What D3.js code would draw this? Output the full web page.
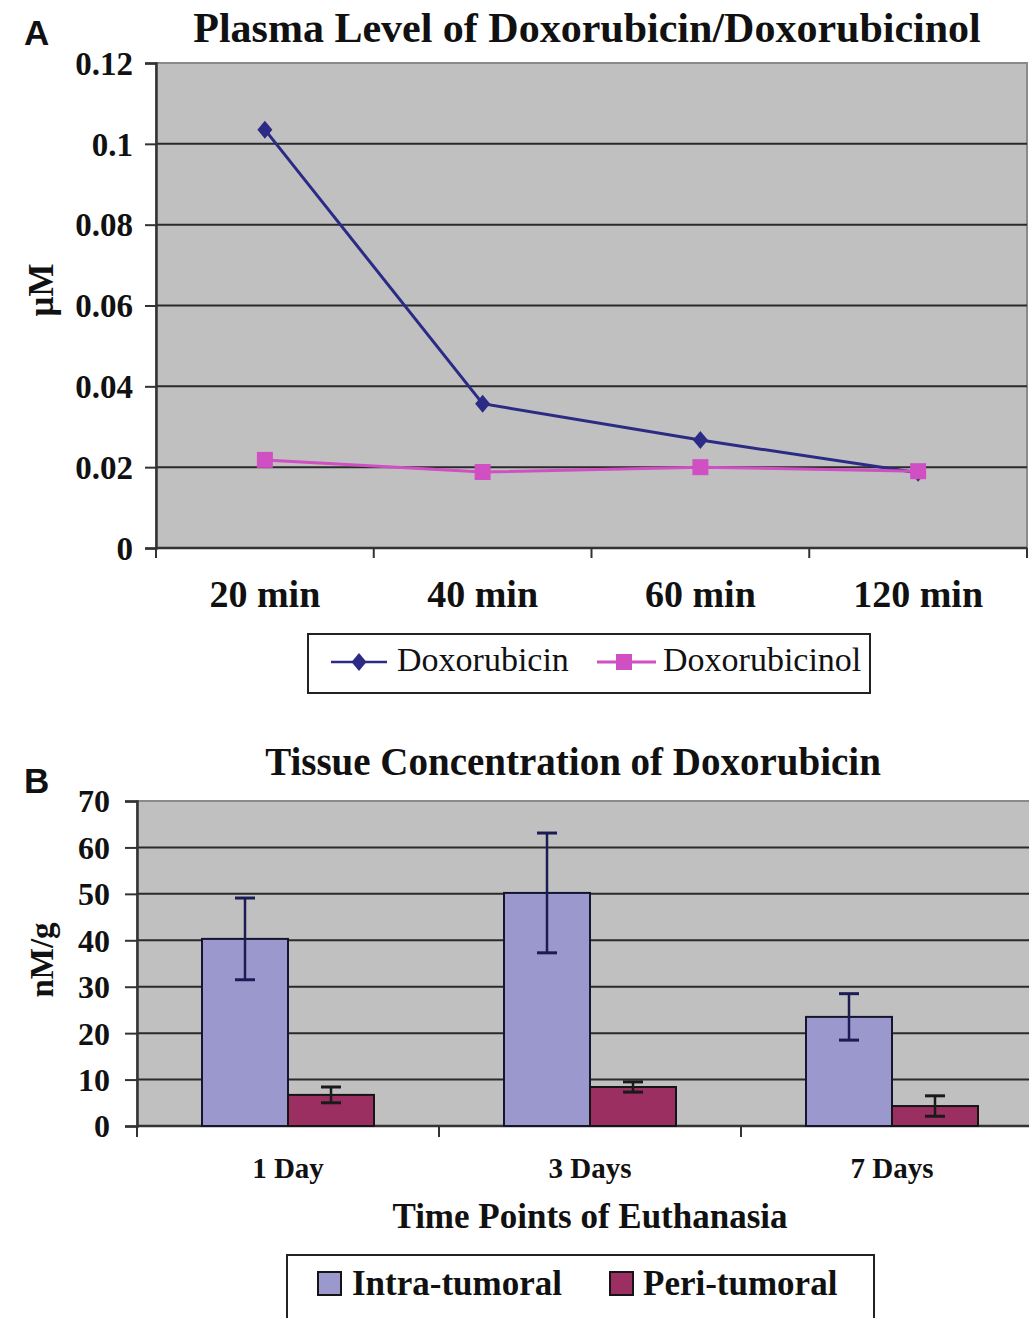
<!DOCTYPE html>
<html lang="en">
<head>
	<meta charset="utf-8">
	<title>Plasma level and tissue concentration of doxorubicin</title>
	<script src="https://d3js.org/d3.v7.min.js" charset="utf-8"></script>
	<style>
		body { margin: 0; background: #fff; }
		text { font-family: "Liberation Serif", "Times New Roman", serif; fill: #111; }
		.panel { font-family: "Liberation Sans", Arial, sans-serif; font-weight: bold; }
	</style>
</head>

<body>
<script>
	// Panel A data - plasma level (uM)
	var timesA = ["20 min", "40 min", "60 min", "120 min"];
	var doxorubicin = [0.1035, 0.0357, 0.0267, 0.0186];
	var doxorubicinol = [0.0218, 0.0188, 0.0200, 0.0190];
	var yTicksA = [0, 0.02, 0.04, 0.06, 0.08, 0.1, 0.12];
	var yLabelsA = ["0", "0.02", "0.04", "0.06", "0.08", "0.1", "0.12"];

	// Panel B data - tissue concentration (nM/g)
	var daysB = ["1 Day", "3 Days", "7 Days"];
	var intraMean = [40.3, 50.2, 23.5];
	var intraErr = [8.8, 12.9, 5.0];
	var periMean = [6.7, 8.4, 4.3];
	var periErr = [1.7, 1.1, 2.2];
	var yTicksB = [0, 10, 20, 30, 40, 50, 60, 70];

	var w = 1029;
	var h = 1318;

	var svg = d3.select("body")
		.append("svg")
		.attr("width", w)
		.attr("height", h);

	svg.append("rect").attr("width", w).attr("height", h).attr("fill", "#fff");

	var serif = "'Liberation Serif', 'Times New Roman', serif";

	// ---------------- Panel A ----------------
	var A = { left: 156, right: 1027, top: 63, bottom: 548 };

	var xA = d3.scaleBand().domain(timesA).range([A.left, A.right]);
	var yA = d3.scaleLinear().domain([0, 0.12]).range([A.bottom, A.top]);

	svg.append("rect")
		.attr("x", A.left).attr("y", A.top)
		.attr("width", A.right - A.left).attr("height", A.bottom - A.top)
		.attr("fill", "#c0c0c0")
		.attr("stroke", "#8a8a8a").attr("stroke-width", 2);

	// gridlines
	svg.append("g").selectAll("line")
		.data(yTicksA.slice(1, -1))
		.enter().append("line")
		.attr("x1", A.left).attr("x2", A.right)
		.attr("y1", function(d) { return yA(d); })
		.attr("y2", function(d) { return yA(d); })
		.attr("stroke", "#2a2a2a").attr("stroke-width", 2);

	// y axis
	var yAxisA = svg.append("g")
		.attr("transform", "translate(" + A.left + ",0)")
		.call(d3.axisLeft(yA).tickValues(yTicksA).tickSize(11).tickPadding(12)
			.tickFormat(function(d, i) { return yLabelsA[i]; }));
	yAxisA.select(".domain").attr("stroke", "#333").attr("stroke-width", 2.5);
	yAxisA.selectAll(".tick line").attr("stroke", "#333").attr("stroke-width", 2);
	yAxisA.selectAll(".tick text")
		.attr("font-family", serif).attr("font-size", 33).attr("font-weight", "bold")
		.attr("fill", "#111").attr("dy", "0.34em");

	// x axis line and tick marks at category boundaries
	svg.append("line")
		.attr("x1", A.left).attr("x2", A.right)
		.attr("y1", A.bottom).attr("y2", A.bottom)
		.attr("stroke", "#333").attr("stroke-width", 2.5);
	svg.append("g").selectAll("line")
		.data(timesA)
		.enter().append("line")
		.attr("x1", function(d) { return xA(d) + xA.bandwidth(); })
		.attr("x2", function(d) { return xA(d) + xA.bandwidth(); })
		.attr("y1", A.bottom).attr("y2", A.bottom + 10)
		.attr("stroke", "#333").attr("stroke-width", 2);
	svg.append("line")
		.attr("x1", A.left).attr("x2", A.left)
		.attr("y1", A.bottom).attr("y2", A.bottom + 10)
		.attr("stroke", "#333").attr("stroke-width", 2);

	svg.append("g").selectAll("text")
		.data(timesA)
		.enter().append("text")
		.attr("x", function(d) { return xA(d) + xA.bandwidth() / 2; })
		.attr("y", 607)
		.attr("text-anchor", "middle")
		.attr("font-size", 38).attr("font-weight", "bold")
		.text(function(d) { return d; });

	// lines
	var lineA = d3.line()
		.x(function(d, i) { return xA(timesA[i]) + xA.bandwidth() / 2; })
		.y(function(d) { return yA(d); });

	var diamond = "M0,-9L7.5,0L0,9L-7.5,0Z";

	svg.append("path")
		.datum(doxorubicin)
		.attr("d", lineA)
		.attr("fill", "none").attr("stroke", "#2b2b85").attr("stroke-width", 3);
	svg.append("g").selectAll("path")
		.data(doxorubicin)
		.enter().append("path")
		.attr("d", diamond)
		.attr("transform", function(d, i) {
			return "translate(" + (xA(timesA[i]) + xA.bandwidth() / 2) + "," + yA(d) + ")";
		})
		.attr("fill", "#2b2b85");

	svg.append("path")
		.datum(doxorubicinol)
		.attr("d", lineA)
		.attr("fill", "none").attr("stroke", "#d04fc2").attr("stroke-width", 3);
	svg.append("g").selectAll("rect")
		.data(doxorubicinol)
		.enter().append("rect")
		.attr("x", function(d, i) { return xA(timesA[i]) + xA.bandwidth() / 2 - 8; })
		.attr("y", function(d) { return yA(d) - 8; })
		.attr("width", 16).attr("height", 16)
		.attr("fill", "#d04fc2");

	// title, panel letter, y label
	svg.append("text")
		.attr("x", 587).attr("y", 42)
		.attr("text-anchor", "middle")
		.attr("font-size", 42).attr("font-weight", "bold")
		.text("Plasma Level of Doxorubicin/Doxorubicinol");
	svg.append("text").attr("class", "panel")
		.attr("x", 24).attr("y", 45)
		.attr("font-size", 35)
		.text("A");
	svg.append("text")
		.attr("transform", "translate(53, 290) rotate(-90)")
		.attr("text-anchor", "middle")
		.attr("font-size", 35).attr("font-weight", "bold")
		.text("\u03bcM");

	// legend A
	svg.append("rect")
		.attr("x", 308).attr("y", 634).attr("width", 562).attr("height", 59)
		.attr("fill", "#fff").attr("stroke", "#222").attr("stroke-width", 2);
	svg.append("line")
		.attr("x1", 331).attr("x2", 387).attr("y1", 662).attr("y2", 662)
		.attr("stroke", "#2b2b85").attr("stroke-width", 2.5);
	svg.append("path")
		.attr("d", diamond).attr("transform", "translate(359,662)")
		.attr("fill", "#2b2b85");
	svg.append("text")
		.attr("x", 397).attr("y", 671)
		.attr("font-size", 34)
		.text("Doxorubicin");
	svg.append("line")
		.attr("x1", 597).attr("x2", 656).attr("y1", 662).attr("y2", 662)
		.attr("stroke", "#d04fc2").attr("stroke-width", 3);
	svg.append("rect")
		.attr("x", 616).attr("y", 654).attr("width", 16).attr("height", 16)
		.attr("fill", "#d04fc2");
	svg.append("text")
		.attr("x", 663).attr("y", 671)
		.attr("font-size", 34)
		.text("Doxorubicinol");

	// ---------------- Panel B ----------------
	var B = { left: 137, right: 1043, top: 801, bottom: 1126 };

	var xB = d3.scaleBand().domain(daysB).range([B.left, B.right]);
	var xSub = d3.scaleBand().domain(["intra", "peri"]).range([0, 172]);
	var yB = d3.scaleLinear().domain([0, 70]).range([B.bottom, B.top]);

	svg.append("rect")
		.attr("x", B.left).attr("y", B.top)
		.attr("width", B.right - B.left).attr("height", B.bottom - B.top)
		.attr("fill", "#c0c0c0")
		.attr("stroke", "#8a8a8a").attr("stroke-width", 2);

	svg.append("g").selectAll("line")
		.data(yTicksB.slice(1, -1))
		.enter().append("line")
		.attr("x1", B.left).attr("x2", B.right)
		.attr("y1", function(d) { return yB(d); })
		.attr("y2", function(d) { return yB(d); })
		.attr("stroke", "#2a2a2a").attr("stroke-width", 2);

	var yAxisB = svg.append("g")
		.attr("transform", "translate(" + B.left + ",0)")
		.call(d3.axisLeft(yB).tickValues(yTicksB).tickSize(12).tickPadding(15)
			.tickFormat(d3.format("d")));
	yAxisB.select(".domain").attr("stroke", "#333").attr("stroke-width", 2.5);
	yAxisB.selectAll(".tick line").attr("stroke", "#333").attr("stroke-width", 2);
	yAxisB.selectAll(".tick text")
		.attr("font-family", serif).attr("font-size", 32).attr("font-weight", "bold")
		.attr("fill", "#111").attr("dy", "0.34em");

	svg.append("line")
		.attr("x1", B.left).attr("x2", B.right)
		.attr("y1", B.bottom).attr("y2", B.bottom)
		.attr("stroke", "#333").attr("stroke-width", 2.5);
	svg.append("g").selectAll("line")
		.data(daysB)
		.enter().append("line")
		.attr("x1", function(d) { return xB(d); })
		.attr("x2", function(d) { return xB(d); })
		.attr("y1", B.bottom).attr("y2", B.bottom + 11)
		.attr("stroke", "#333").attr("stroke-width", 2);

	// bars
	function groupX(i) { return xB(daysB[i]) + (xB.bandwidth() - 172) / 2; }

	svg.append("g").selectAll("rect")
		.data(intraMean)
		.enter().append("rect")
		.attr("x", function(d, i) { return groupX(i) + xSub("intra"); })
		.attr("y", function(d) { return yB(d); })
		.attr("width", xSub.bandwidth())
		.attr("height", function(d) { return B.bottom - yB(d); })
		.attr("fill", "#9a98cd").attr("stroke", "#151530").attr("stroke-width", 2);
	svg.append("g").selectAll("rect")
		.data(periMean)
		.enter().append("rect")
		.attr("x", function(d, i) { return groupX(i) + xSub("peri"); })
		.attr("y", function(d) { return yB(d); })
		.attr("width", xSub.bandwidth())
		.attr("height", function(d) { return B.bottom - yB(d); })
		.attr("fill", "#9c2f62").attr("stroke", "#151515").attr("stroke-width", 2);

	// error bars
	function errorBars(means, errs, key, color) {
		var g = svg.append("g").selectAll("g")
			.data(means)
			.enter().append("g")
			.attr("stroke", color).attr("stroke-width", 2.5);
		g.append("line")
			.attr("x1", function(d, i) { return groupX(i) + xSub(key) + xSub.bandwidth() / 2; })
			.attr("x2", function(d, i) { return groupX(i) + xSub(key) + xSub.bandwidth() / 2; })
			.attr("y1", function(d, i) { return yB(d + errs[i]); })
			.attr("y2", function(d, i) { return yB(d - errs[i]); });
		[1, -1].forEach(function(s) {
			g.append("line")
				.attr("x1", function(d, i) { return groupX(i) + xSub(key) + xSub.bandwidth() / 2 - 10; })
				.attr("x2", function(d, i) { return groupX(i) + xSub(key) + xSub.bandwidth() / 2 + 10; })
				.attr("y1", function(d, i) { return yB(d + s * errs[i]); })
				.attr("y2", function(d, i) { return yB(d + s * errs[i]); })
				.attr("stroke-width", 3);
		});
	}
	errorBars(intraMean, intraErr, "intra", "#1c1c55");
	errorBars(periMean, periErr, "peri", "#1a1a1a");

	svg.append("g").selectAll("text")
		.data(daysB)
		.enter().append("text")
		.attr("x", function(d) { return xB(d) + xB.bandwidth() / 2; })
		.attr("y", 1178)
		.attr("text-anchor", "middle")
		.attr("font-size", 29).attr("font-weight", "bold")
		.text(function(d) { return d; });

	svg.append("text")
		.attr("x", 573).attr("y", 775)
		.attr("text-anchor", "middle")
		.attr("font-size", 39).attr("font-weight", "bold")
		.text("Tissue Concentration of Doxorubicin");
	svg.append("text").attr("class", "panel")
		.attr("x", 24).attr("y", 793)
		.attr("font-size", 35)
		.text("B");
	svg.append("text")
		.attr("transform", "translate(53, 960) rotate(-90)")
		.attr("text-anchor", "middle")
		.attr("font-size", 33).attr("font-weight", "bold")
		.text("nM/g");
	svg.append("text")
		.attr("x", 590).attr("y", 1228)
		.attr("text-anchor", "middle")
		.attr("font-size", 35).attr("font-weight", "bold")
		.text("Time Points of Euthanasia");

	// legend B
	svg.append("rect")
		.attr("x", 287).attr("y", 1255).attr("width", 587).attr("height", 80)
		.attr("fill", "#fff").attr("stroke", "#222").attr("stroke-width", 2);
	svg.append("rect")
		.attr("x", 318).attr("y", 1272).attr("width", 23).attr("height", 23)
		.attr("fill", "#9a98cd").attr("stroke", "#151515").attr("stroke-width", 2);
	svg.append("text")
		.attr("x", 352).attr("y", 1295)
		.attr("font-size", 35).attr("font-weight", "bold")
		.text("Intra-tumoral");
	svg.append("rect")
		.attr("x", 610).attr("y", 1272).attr("width", 23).attr("height", 23)
		.attr("fill", "#9c2f62").attr("stroke", "#151515").attr("stroke-width", 2);
	svg.append("text")
		.attr("x", 643).attr("y", 1295)
		.attr("font-size", 35).attr("font-weight", "bold")
		.text("Peri-tumoral");
</script>
</body>
</html>
